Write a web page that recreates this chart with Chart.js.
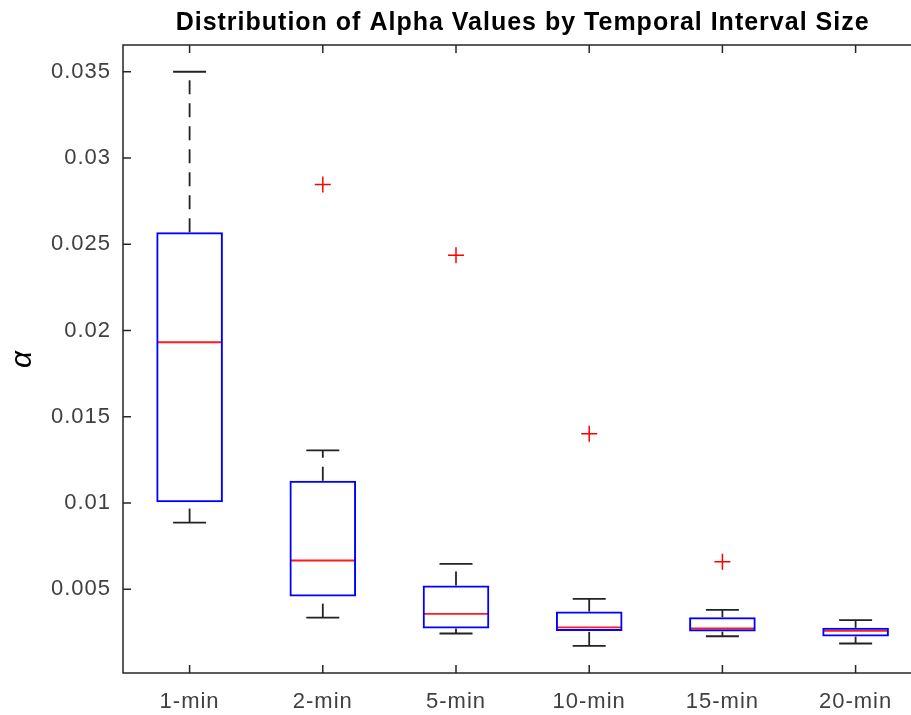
<!DOCTYPE html>
<html>
<head>
<meta charset="utf-8">
<script src="https://cdn.jsdelivr.net/npm/chart.js@4"></script>
<style>
  html, body { margin: 0; padding: 0; background: #fff; overflow: hidden; }
</style>
</head>
<body>
<canvas id="boxChart" width="956" height="715"></canvas>
<script>
// values
const categories = ['1-min', '2-min', '5-min', '10-min', '15-min', '20-min'];
const lowerWhisker = [0.00887, 0.00336, 0.00244, 0.00172, 0.00228, 0.00186];
const q1 = [0.01005, 0.00458, 0.00273, 0.00259, 0.00255, 0.00226];
const median = [0.01932, 0.00667, 0.00358, 0.00280, 0.00273, 0.00259];
const q3 = [0.02570, 0.01129, 0.00522, 0.00371, 0.00338, 0.00277];
const upperWhisker = [0.0350, 0.01305, 0.00648, 0.00445, 0.00381, 0.00321];
const outlierCats = ['2-min', '5-min', '10-min', '15-min'];
const outlierValues = [0.02846, 0.02436, 0.01402, 0.00660];
const yTicks = [0.005, 0.01, 0.015, 0.02, 0.025, 0.03, 0.035];
const yTickLabels = ['0.005', '0.01', '0.015', '0.02', '0.025', '0.03', '0.035'];

const FONT = "'Liberation Sans', Arial, sans-serif";
const AXIS_COLOR = '#262626';

// the original text is a little wider set than Liberation Sans
const spacing = {
    id: 'spacing',
    beforeDraw(chart) { chart.ctx.letterSpacing = '1px'; }
};

// matlab style: box all round, ticks pointing inwards
// (the right side of the axes runs past the window edge, as in the original)
const axesBox = {
    id: 'axesBox',
    afterDraw(chart) {
        const ctx = chart.ctx;
        const a = chart.chartArea;
        const xs = chart.scales.x;
        const ys = chart.scales.y;
        const len = 8;
        ctx.save();
        ctx.strokeStyle = AXIS_COLOR;
        ctx.lineWidth = 1.5;
        ctx.strokeRect(a.left, a.top, a.right - a.left, a.bottom - a.top);
        ctx.beginPath();
        yTicks.forEach(v => {
            const y = ys.getPixelForValue(v);
            ctx.moveTo(a.left, y);
            ctx.lineTo(a.left + len, y);
            ctx.moveTo(a.right, y);
            ctx.lineTo(a.right - len, y);
        });
        categories.forEach((c, i) => {
            const x = xs.getPixelForTick(i);
            ctx.moveTo(x, a.bottom);
            ctx.lineTo(x, a.bottom - len);
            ctx.moveTo(x, a.top);
            ctx.lineTo(x, a.top + len);
        });
        ctx.stroke();
        ctx.restore();
    }
};

// whiskers drawn upward, one dataset each so the dashes restart
const whiskerSets = [];
categories.forEach((c, i) => {
    [[lowerWhisker[i], q1[i]], [q3[i], upperWhisker[i]]].forEach(([from, to]) => {
        whiskerSets.push({
            type: 'line',
            data: [{x: c, y: from}, {x: c, y: to}],
            borderColor: '#222222',
            borderWidth: 1.8,
            borderDash: [14, 9],
            pointRadius: 0,
            fill: false
        });
    });
});

new Chart(document.getElementById('boxChart'), {
    type: 'bar',
    data: {
        labels: categories,
        datasets: [
            {
                type: 'bar',
                data: categories.map((c, i) => [q1[i], q3[i]]),
                backgroundColor: 'rgba(0,0,0,0)',
                borderColor: '#0000ff',
                borderWidth: 2,
                borderSkipped: false,
                barPercentage: 0.5,
                categoryPercentage: 1.0
            },
            ...whiskerSets,
            {
                type: 'line',
                showLine: false,
                data: categories.flatMap((c, i) => [{x: c, y: lowerWhisker[i]}, {x: c, y: upperWhisker[i]}]),
                pointStyle: 'line',
                pointRadius: 16.5,
                pointBorderWidth: 1.8,
                pointBorderColor: '#222222'
            },
            {
                type: 'line',
                showLine: false,
                data: categories.map((c, i) => ({x: c, y: median[i]})),
                pointStyle: 'line',
                pointRadius: 32,
                pointBorderWidth: 1.8,
                pointBorderColor: '#ff1a1a'
            },
            {
                type: 'line',
                showLine: false,
                data: outlierCats.map((c, i) => ({x: c, y: outlierValues[i]})),
                pointStyle: 'cross',
                pointRadius: 8,
                pointBorderWidth: 1.5,
                pointBorderColor: '#ff0000'
            }
        ]
    },
    options: {
        responsive: false,
        animation: false,
        events: [],
        layout: { padding: 0 },
        scales: {
            x: {
                offset: true,
                grid: { display: false, drawTicks: false },
                border: { display: false },
                ticks: {
                    color: '#404040',
                    font: { family: FONT, size: 22 },
                    padding: 16
                },
                afterFit: (scale) => {
                    scale.height = 42;
                    scale.paddingLeft = 0;
                    scale.paddingRight = 0;
                }
            },
            y: {
                min: 0.00015,
                max: 0.03655,
                grid: { display: false, drawTicks: false },
                border: { display: false },
                afterBuildTicks: (scale) => { scale.ticks = yTicks.map(v => ({value: v})); },
                ticks: {
                    color: '#404040',
                    font: { family: FONT, size: 22 },
                    padding: 12,
                    callback: (value, index) => yTickLabels[index]
                },
                title: {
                    display: true,
                    text: 'α',
                    color: '#000000',
                    font: { family: FONT, size: 30, style: 'italic' },
                    padding: { top: 5, bottom: 0 }
                },
                afterFit: (scale) => { scale.width = 123; }
            }
        },
        plugins: {
            legend: { display: false },
            tooltip: { enabled: false },
            title: {
                display: true,
                fullSize: false,
                text: 'Distribution of Alpha Values by Temporal Interval Size',
                color: '#000000',
                font: { family: FONT, size: 25, weight: 'bold', lineHeight: 1.2 },
                padding: { top: 8, bottom: 7 }
            }
        }
    },
    plugins: [spacing, axesBox]
});
</script>
</body>
</html>
